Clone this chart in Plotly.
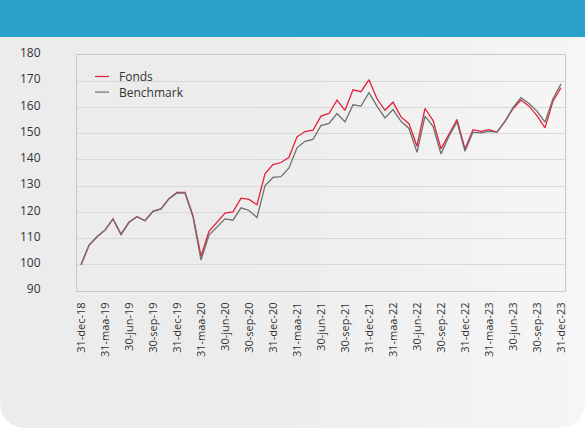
import plotly.graph_objects as go

# ---- data (monthly index values, dec-2018 = 100) ----
fonds = [100.0, 107.4, 110.7, 113.2, 117.5, 111.6, 116.2, 118.3, 116.8, 120.4,
         121.3, 125.2, 127.6, 127.6, 118.7, 103.3, 112.8, 116.2, 119.7, 120.2,
         125.4, 124.9, 122.9, 134.7, 138.2, 139.0, 141.0, 148.8, 150.8, 151.3,
         156.7, 157.7, 162.8, 158.9, 166.7, 166.0, 170.6, 163.3, 158.9, 162.0,
         156.4, 153.8, 145.2, 159.6, 155.1, 144.2, 150.1, 155.4, 144.2, 151.5,
         150.9, 151.5, 150.6, 154.7, 159.5, 162.8, 160.5, 156.9, 152.2, 162.4,
         167.5]
benchmark = [100.0, 107.4, 110.7, 113.2, 117.5, 111.6, 116.2, 118.3, 116.8, 120.4,
             121.3, 125.2, 127.4, 127.3, 118.3, 101.8, 111.3, 114.5, 117.5, 117.0,
             121.7, 120.7, 118.0, 130.1, 133.3, 133.6, 136.9, 144.6, 147.1, 147.8,
             153.1, 153.9, 157.7, 154.5, 161.0, 160.5, 165.6, 160.5, 156.0, 159.2,
             154.7, 152.0, 142.9, 156.7, 152.8, 142.3, 149.0, 154.5, 143.3, 150.6,
             150.3, 150.9, 150.6, 154.7, 159.9, 163.7, 161.5, 158.6, 154.4, 163.3,
             169.0]
tick_labels = ["31-dec-18", "31-maa-19", "30-jun-19", "30-sep-19", "31-dec-19",
               "31-maa-20", "30-jun-20", "30-sep-20", "31-dec-20", "31-maa-21",
               "30-jun-21", "30-sep-21", "31-dec-21", "31-maa-22", "30-jun-22",
               "30-sep-22", "31-dec-22", "31-maa-23", "30-jun-23", "30-sep-23",
               "31-dec-23"]
series_names = ["Fonds", "Benchmark"]
y_ticks = [90, 100, 110, 120, 130, 140, 150, 160, 170, 180]

months = list(range(len(fonds)))
tick_positions = [i * 3 for i in range(len(tick_labels))]

RED = "#e4203a"
GREY = "#6f6f6f"
FONT = "Open Sans"

# ---- geometry helpers (pixel -> paper) ----
W, H = 585, 428
ML, MR, MT, MB = 77, 20, 55, 137
PW, PH = W - ML - MR, H - MT - MB


def px(x):
    return (x - ML) / PW


def py(y):
    return (H - MB - y) / PH


fig = go.Figure()
fig.add_trace(go.Scatter(x=months, y=fonds, mode="lines", name=series_names[0],
                         line=dict(color=RED, width=1.3), showlegend=False))
fig.add_trace(go.Scatter(x=months, y=benchmark, mode="lines", name=series_names[1],
                         line=dict(color=GREY, width=1.3), showlegend=False))

shapes = []
# card background: horizontal gradient in strips
n = 24
x_start = 240
for k in range(n):
    x0 = 0 if k == 0 else x_start + (W - x_start) * k / n
    x1 = x_start + (W - x_start) * (k + 1) / n
    g = int(round(236 + 10 * (k + 0.5) / n))
    shapes.append(dict(type="rect", xref="paper", yref="paper",
                       x0=px(x0 - (1 if k == 0 else 0)), x1=px(x1 + 1), y0=py(H + 2), y1=py(36),
                       fillcolor=f"rgb({g},{g},{g})", line=dict(width=0), layer="below"))
# rounded bottom corners (white cut-outs)
R = 28
for side in ("l", "r"):
    if side == "l":
        path = (f"M {px(-1)},{py(H - R)} L {px(-1)},{py(H + 2)} L {px(R)},{py(H + 2)} "
                f"L {px(R)},{py(H)} Q {px(0)},{py(H)} {px(0)},{py(H - R)} Z")
    else:
        path = (f"M {px(W + 1)},{py(H - R)} L {px(W + 1)},{py(H + 2)} L {px(W - R)},{py(H + 2)} "
                f"L {px(W - R)},{py(H)} Q {px(W)},{py(H)} {px(W)},{py(H - R)} Z")
    shapes.append(dict(type="path", xref="paper", yref="paper", path=path,
                       fillcolor="white", line=dict(width=0), layer="below"))
# header bar
shapes.append(dict(type="rect", xref="paper", yref="paper",
                   x0=px(-1), x1=px(W + 1), y0=py(37), y1=py(-2),
                   fillcolor="#2ca1cc", line=dict(width=0), layer="below"))

# legend (drawn manually for tight spacing)
LEG_Y = [76.5, 92.1]
for c, yy in zip([RED, GREY], LEG_Y):
    shapes.append(dict(type="line", xref="paper", yref="paper",
                       x0=px(95), x1=px(109), y0=py(yy), y1=py(yy),
                       line=dict(color=c, width=1.2)))

annotations = [dict(text="<br>".join(series_names), xref="paper", yref="paper",
                    x=px(117), y=py(sum(LEG_Y) / 2), xanchor="left", yanchor="middle",
                    align="left", showarrow=False,
                    font=dict(family=FONT, size=12, color="#333333"))]

fig.update_layout(
    width=W, height=H,
    margin=dict(l=ML, r=MR, t=MT, b=MB),
    paper_bgcolor="white",
    plot_bgcolor="rgba(0,0,0,0)",
    shapes=shapes,
    annotations=annotations,
    showlegend=False,
    hovermode=False,
    font=dict(family=FONT, color="#333333"),
)
fig.update_xaxes(
    range=[-0.5, len(fonds) - 0.5],
    tickmode="array", tickvals=tick_positions, ticktext=tick_labels,
    tickangle=-90, tickfont=dict(size=11, color="#333333"),
    showgrid=False, zeroline=False,
    showline=True, linecolor="#c9c9c9", linewidth=1, mirror=True,
    ticks="", ticklabelstandoff=6,
)
fig.update_yaxes(
    range=[90, 180],
    tickmode="array", tickvals=y_ticks,
    tickfont=dict(size=12, color="#333333"),
    showgrid=True, gridcolor="#d9d9d9", gridwidth=1, zeroline=False,
    showline=True, linecolor="#c9c9c9", linewidth=1, mirror=True,
    ticks="", ticklabelstandoff=33, ticklabelshift=-2,
)

fig.write_html("out.html", config={"displayModeBar": False, "staticPlot": True},
               post_script="document.body.style.margin='0';document.body.style.overflow='hidden';")
